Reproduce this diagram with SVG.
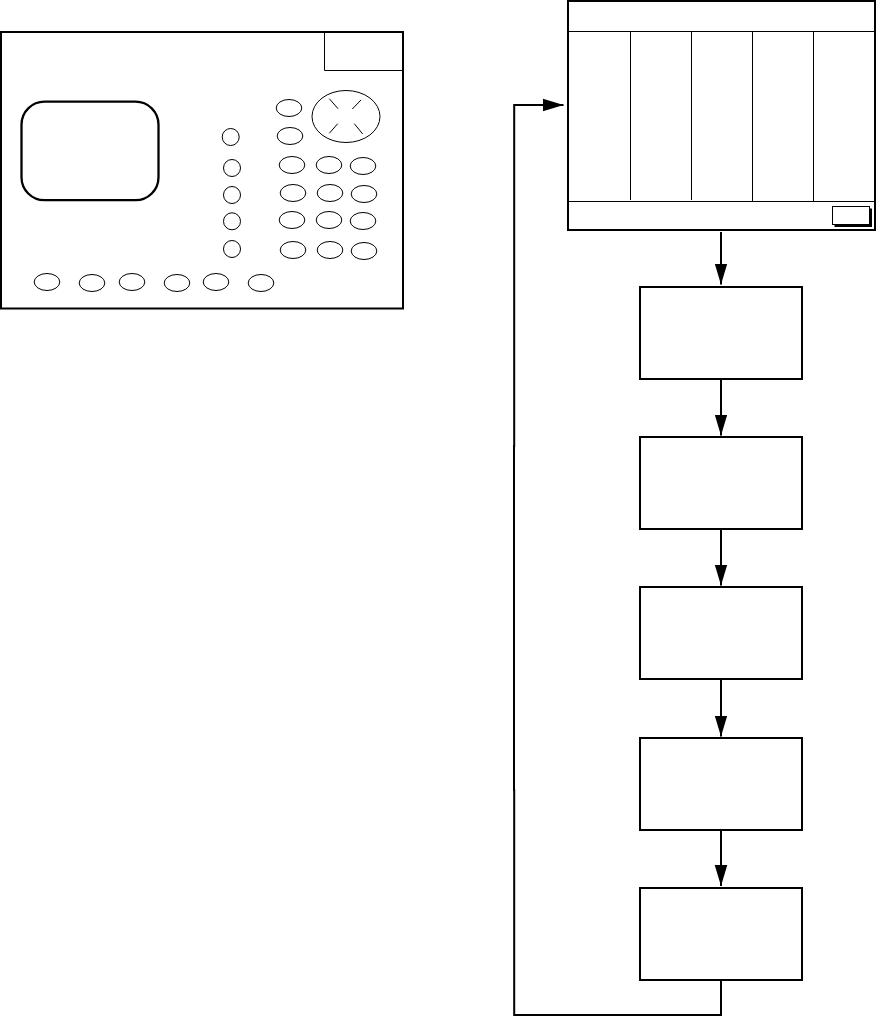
<svg xmlns="http://www.w3.org/2000/svg" width="876" height="1017" viewBox="0 0 876 1017">
<style>
.b{fill:#fff;stroke:#000;stroke-width:2}
.t{fill:none;stroke:#000;stroke-width:1}
.k{fill:#fff;stroke:#000;stroke-width:1}
.c{fill:none;stroke:#000;stroke-width:2}
</style>
<defs>
<marker id="a" markerUnits="userSpaceOnUse" markerWidth="22" markerHeight="14" refX="21" refY="7" orient="auto"><path d="M0 .7L21 7L0 13.300z" fill="#000"/></marker>
<ellipse id="e" class="k" rx="12.800" ry="8.500"/>
<circle id="o" class="k" r="8.500"/>
</defs>
<rect width="876" height="1017" fill="#fff"/>
<g id="panel">
<rect class="b" x="1" y="32" width="402" height="276.500"/>
<path class="t" d="M324.500 32V70.500H403"/>
<rect class="b" style="stroke-width:2.300" x="21.500" y="101.700" width="137" height="98.500" rx="23" ry="23"/>
<ellipse class="k" cx="346" cy="116.500" rx="34" ry="26"/>
<path class="t" d="M329.300 98.700L338 108.700M361 100L352.300 109M329.300 133.300L337.700 123.700M362.700 134L354.300 123.700"/>
<use href="#e" x="289" y="108"/><use href="#e" x="290" y="136"/>
<use href="#e" x="292" y="165"/><use href="#e" x="329" y="165"/><use href="#e" x="363" y="166"/>
<use href="#e" x="293" y="193"/><use href="#e" x="330" y="193"/><use href="#e" x="364" y="194"/>
<use href="#e" x="292" y="220"/><use href="#e" x="329" y="220"/><use href="#e" x="363" y="221"/>
<use href="#e" x="293" y="250"/><use href="#e" x="330" y="250"/><use href="#e" x="364" y="251"/>
<use href="#o" x="230.700" y="137"/><use href="#o" x="232" y="168"/><use href="#o" x="232" y="195"/><use href="#o" x="232" y="221.300"/><use href="#o" x="232" y="249"/>
<use href="#e" x="47" y="282"/><use href="#e" x="92" y="283"/><use href="#e" x="132" y="282"/><use href="#e" x="177" y="283"/><use href="#e" x="216" y="282"/><use href="#e" x="261" y="283"/>
</g>
<g id="screen">
<rect class="b" x="568" y="1" width="307" height="229"/>
<path class="t" d="M568 31.500H875M568 201.500H875M630.500 31.500V200M691.500 31.500V200M752.500 31.500V201.500M813.500 31.500V201.500"/>
<rect x="834.500" y="208.500" width="37.500" height="18.500" fill="#000"/>
<rect class="k" x="832.500" y="206.500" width="37" height="18"/>
</g>
<g id="box1"><rect class="b" x="640" y="287" width="162" height="92"/></g>
<g id="box2"><rect class="b" x="640" y="437" width="162" height="92"/></g>
<g id="box3"><rect class="b" x="640" y="587" width="162" height="92"/></g>
<g id="box4"><rect class="b" x="640" y="738" width="162" height="92"/></g>
<g id="box5"><rect class="b" x="640" y="888" width="162" height="92"/></g>
<g id="connectors">
<path class="c" d="M721 232V284.500" marker-end="url(#a)"/>
<path class="c" d="M721 379V435.500" marker-end="url(#a)"/>
<path class="c" d="M721 529V585.500" marker-end="url(#a)"/>
<path class="c" d="M721 679V736.500" marker-end="url(#a)"/>
<path class="c" d="M721 830V886" marker-end="url(#a)"/>
<path class="c" d="M721 980V1015H514.200V790H514V446H514.200V105H563.500" marker-end="url(#a)"/>
</g>
</svg>
